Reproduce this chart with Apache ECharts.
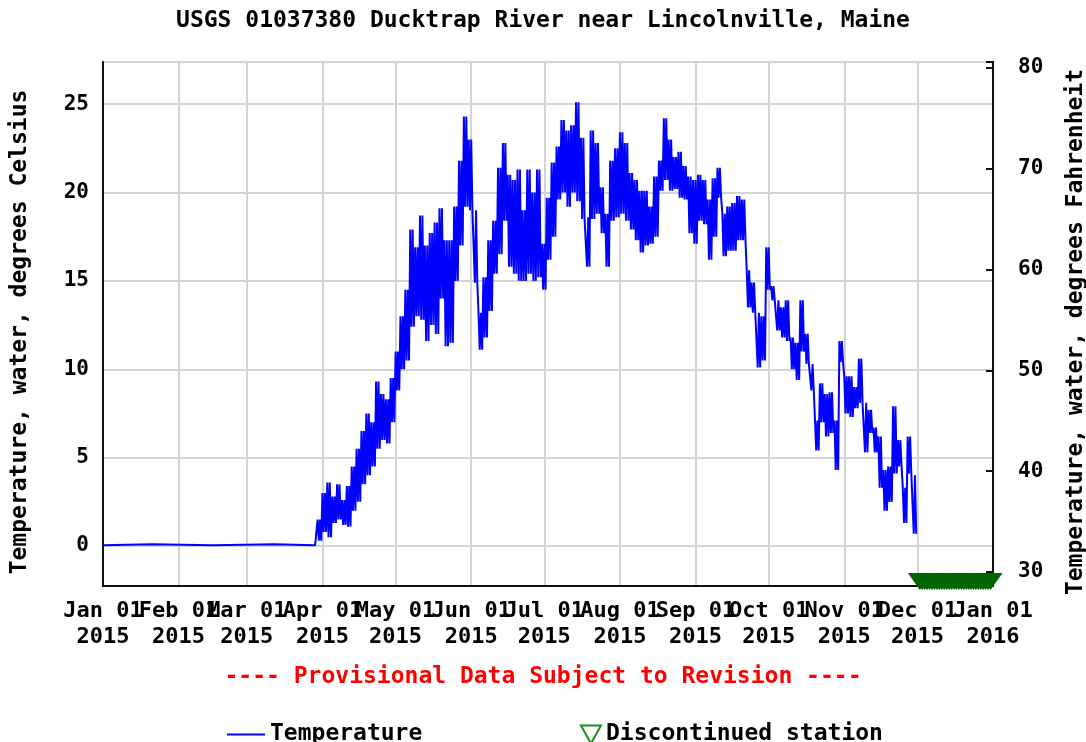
<!DOCTYPE html>
<html>
<head>
<meta charset="UTF-8">
<script src="https://cdn.jsdelivr.net/npm/echarts@6/dist/echarts.min.js"></script>
<style>
html, body { margin: 0; padding: 0; background: #fff; }
#chart { width: 1086px; height: 742px; }
</style>
</head>
<body>
<div id="chart"></div>
<script>
// x ticks: day of year where each month starts (2015), plus Jan 01 2016
var monthStartDays = [0, 31, 59, 90, 120, 151, 181, 212, 243, 273, 304, 334, 365];
var monthLabels = ['Jan 01\n2015', 'Feb 01\n2015', 'Mar 01\n2015', 'Apr 01\n2015', 'May 01\n2015',
    'Jun 01\n2015', 'Jul 01\n2015', 'Aug 01\n2015', 'Sep 01\n2015', 'Oct 01\n2015',
    'Nov 01\n2015', 'Dec 01\n2015', 'Jan 01\n2016'];

// winter, river iced over ~0 C
var winterDays = [0, 20, 45, 70, 87];
var winterC = [0.05, 0.1, 0.05, 0.1, 0.05];

// every second day, daily high / low (deg C)
var sampleDays = [88, 90, 92, 94, 96, 98, 100, 102, 104, 106, 108, 110, 112, 114, 116, 118,
    120, 122, 124, 126, 128, 130, 132, 134, 136, 138, 140, 142, 144, 146, 148, 150,
    152, 154, 156, 158, 160, 162, 164, 166, 168, 170, 172, 174, 176, 178, 180, 182,
    184, 186, 188, 190, 192, 194, 196, 198, 200, 202, 204, 206, 208, 210, 212, 214,
    216, 218, 220, 222, 224, 226, 228, 230, 232, 234, 236, 238, 240, 242, 244, 246,
    248, 250, 252, 254, 256, 258, 260, 262, 264, 266, 268, 270, 272, 274, 276, 278,
    280, 282, 284, 286, 288, 290, 292, 294, 296, 298, 300, 302, 304, 306, 308, 310,
    312, 314, 316, 318, 320, 322, 324, 326, 328, 330, 332];
var highC = [1.5, 3.0, 3.6, 2.8, 3.5, 2.6, 3.4, 4.5, 5.5, 6.5, 7.5, 7.0, 9.3, 8.6, 8.3, 9.5,
    11.0, 13.0, 14.5, 17.9, 16.9, 18.7, 17.0, 17.7, 18.3, 19.1, 17.3, 17.3, 19.2, 21.8, 24.3, 23.0,
    19.0, 13.2, 15.2, 17.3, 18.4, 21.4, 22.8, 21.0, 20.7, 21.3, 19.0, 21.3, 20.0, 21.3, 17.1, 19.7,
    21.7, 22.6, 24.1, 23.5, 23.8, 25.1, 23.1, 18.6, 23.5, 22.8, 20.3, 18.8, 21.8, 22.5, 23.4, 22.8,
    21.1, 20.7, 20.1, 20.1, 19.2, 20.9, 21.8, 24.2, 23.0, 22.0, 22.3, 21.5, 20.9, 20.7, 21.0, 20.7,
    19.6, 20.8, 21.4, 18.8, 19.2, 19.4, 19.8, 19.6, 15.6, 14.9, 13.2, 13.0, 16.9, 14.7, 13.9, 13.5,
    13.9, 11.8, 11.5, 13.9, 12.0, 10.3, 7.1, 9.2, 8.6, 8.7, 7.1, 11.6, 9.6, 9.6, 9.0, 10.6,
    8.1, 7.7, 6.7, 6.2, 4.3, 4.5, 7.9, 6.0, 3.3, 6.2, 4.0];
var lowC = [0.3, 0.8, 0.5, 1.3, 1.5, 1.2, 1.1, 2.0, 2.5, 3.5, 4.0, 4.5, 5.5, 6.0, 5.8, 7.0,
    8.8, 10.0, 10.5, 12.4, 13.0, 12.8, 11.6, 12.5, 12.0, 14.0, 11.3, 11.5, 15.0, 17.0, 19.2, 19.0,
    14.9, 11.1, 11.8, 13.3, 15.4, 16.5, 18.4, 15.8, 15.4, 15.0, 15.0, 15.4, 15.0, 15.2, 14.5, 16.2,
    17.5, 19.6, 20.0, 19.2, 20.0, 19.5, 18.5, 15.8, 18.5, 18.8, 17.7, 15.8, 18.4, 18.6, 18.8, 18.4,
    17.9, 17.3, 16.6, 17.0, 17.1, 17.5, 20.1, 20.7, 20.1, 20.2, 19.7, 19.6, 17.7, 17.1, 18.4, 18.2,
    16.2, 17.5, 19.7, 16.4, 16.7, 16.7, 17.3, 17.3, 13.5, 13.2, 10.1, 10.5, 14.5, 13.9, 12.2, 11.8,
    11.6, 10.0, 9.4, 11.0, 10.3, 8.8, 5.4, 7.0, 6.2, 6.4, 4.3, 10.4, 7.5, 7.3, 7.8, 8.1,
    5.3, 6.4, 5.3, 3.3, 2.0, 2.5, 4.1, 4.5, 1.3, 4.1, 0.7];

// station discontinued after Dec 01
var discontinuedDays = [335, 336, 337, 338, 339, 340, 341, 342, 343, 344, 345, 346, 347, 348, 349,
    350, 351, 352, 353, 354, 355, 356, 357, 358, 359, 360, 361, 362, 363, 364];
var discontinuedC = -2.0;

var FONT = "'DejaVu Sans Mono', monospace";
var lastDay = monthStartDays[monthStartDays.length - 1];

var dayCats = [];
for (var d = 0; d <= lastDay; d++) dayCats.push(String(d));

// each 2-day sample is two daily swings between high and low
var tempData = [];
for (var i = 0; i < winterDays.length; i++) tempData.push([winterDays[i], winterC[i]]);
for (var j = 0; j < sampleDays.length; j++) {
    var s = sampleDays[j];
    tempData.push([s, highC[j]]);
    tempData.push([s + 0.5, lowC[j]]);
    tempData.push([s + 1, highC[j]]);
    tempData.push([s + 1.5, lowC[j]]);
}
var discData = discontinuedDays.map(function(day) { return [day, discontinuedC]; });

function monthIdx(index) {
    return monthStartDays.indexOf(index);
}
function monthLabel(value, index) {
    var k = monthIdx(index);
    return k >= 0 ? monthLabels[k] : '';
}

// month labels are wider than a month, so alternate months go on two
// label axes; otherwise echarts drops the ones that touch
function labelAxis(parity, extra) {
    var axis = {
        type: 'category',
        data: dayCats,
        boundaryGap: false,
        position: 'bottom',
        axisTick: { show: false },
        axisLabel: {
            interval: function(index) { var k = monthIdx(index); return k >= 0 && k % 2 === parity; },
            formatter: monthLabel,
            hideOverlap: false,
            margin: 12,
            lineHeight: 26,
            fontFamily: FONT, fontSize: 22, fontWeight: 'bold', color: '#000'
        }
    };
    return Object.assign(axis, extra);
}

var option = {
    animation: false,
    backgroundColor: '#fff',
    title: [{
        text: 'USGS 01037380 Ducktrap River near Lincolnville, Maine',
        left: 'center',
        top: 5,
        textStyle: { fontFamily: FONT, fontSize: 23, fontWeight: 'bold', color: '#000' }
    }, {
        text: '---- Provisional Data Subject to Revision ----',
        left: 'center',
        top: 661,
        textStyle: { fontFamily: FONT, fontSize: 23, fontWeight: 'bold', color: '#ff0000' }
    }],
    legend: [{
        data: [{ name: 'Temperature', icon: 'rect' }],
        left: 222,
        top: 718,
        itemWidth: 38,
        itemHeight: 2,
        textStyle: { fontFamily: FONT, fontSize: 23, fontWeight: 'bold', color: '#000' }
    }, {
        data: [{
            name: 'Discontinued station',
            icon: 'path://M0,0L20,0L10,18Z',
            itemStyle: { color: '#fff', borderColor: '#1a8f1a', borderWidth: 2 }
        }],
        left: 575,
        top: 718,
        itemWidth: 20,
        itemHeight: 18,
        textStyle: { fontFamily: FONT, fontSize: 23, fontWeight: 'bold', color: '#000' }
    }],
    grid: {
        left: 103, right: 93, top: 62, bottom: 156,
        outerBoundsMode: 'none',
        containLabel: false,
        show: true, borderColor: '#333', borderWidth: 2
    },
    xAxis: [
        labelAxis(1, {
            axisLine: { onZero: false, lineStyle: { color: '#111', width: 2 } },
            splitLine: {
                show: true,
                interval: function(index) { return monthIdx(index) >= 0; },
                lineStyle: { color: '#d4d4d4', width: 2 }
            }
        }),
        { type: 'value', min: 0, max: lastDay, show: false },
        labelAxis(0, {
            axisLine: { show: false, onZero: false },
            splitLine: { show: false }
        })
    ],
    yAxis: [{
        type: 'value',
        position: 'left',
        min: -2.26,
        max: 27.38,
        splitNumber: 6,
        name: 'Temperature, water, degrees Celsius',
        nameLocation: 'middle',
        nameRotate: 90,
        nameGap: 71,
        nameTextStyle: {
            fontFamily: FONT, fontSize: 23, fontWeight: 'bold', color: '#000',
            padding: [0, 16, 0, 0]
        },
        axisLine: { show: true, onZero: false, lineStyle: { color: '#111', width: 2 } },
        axisTick: { show: false },
        axisLabel: {
            margin: 14,
            formatter: function(v) { return Math.abs(v % 5) < 1e-6 ? String(v) : ''; },
            fontFamily: FONT, fontSize: 21, fontWeight: 'bold', color: '#000'
        },
        splitLine: { show: true, lineStyle: { color: '#d4d4d4', width: 2 } }
    }, {
        type: 'value',
        position: 'right',
        min: 28.6,
        max: 80.6,
        splitNumber: 5,
        name: 'Temperature, water, degrees Fahrenheit',
        nameLocation: 'middle',
        nameRotate: 90,
        nameGap: 72,
        nameTextStyle: {
            fontFamily: FONT, fontSize: 23, fontWeight: 'bold', color: '#000',
            padding: [0, 16, 0, 0]
        },
        axisLine: { show: true, onZero: false, lineStyle: { color: '#111', width: 2 } },
        axisTick: { show: true, inside: true, length: 7, lineStyle: { color: '#111', width: 2 } },
        axisLabel: {
            margin: 25,
            formatter: function(v) { return Math.abs(v % 10) < 1e-6 ? String(v) : ''; },
            fontFamily: FONT, fontSize: 21, fontWeight: 'bold', color: '#000'
        },
        splitLine: { show: false }
    }],
    series: [{
        name: 'Temperature',
        type: 'line',
        xAxisIndex: 1,
        yAxisIndex: 0,
        data: tempData,
        symbol: 'none',
        lineStyle: { color: '#0000ff', width: 2 },
        itemStyle: { color: '#0000ff' },
        z: 3
    }, {
        name: 'Discontinued station',
        type: 'scatter',
        xAxisIndex: 1,
        yAxisIndex: 0,
        data: discData,
        symbol: 'triangle',
        symbolRotate: 180,
        symbolSize: [24, 17],
        clip: false,
        itemStyle: { color: '#006400', opacity: 1 },
        z: 4
    }]
};

var myChart = echarts.init(document.getElementById('chart'));
myChart.setOption(option);
</script>
</body>
</html>
